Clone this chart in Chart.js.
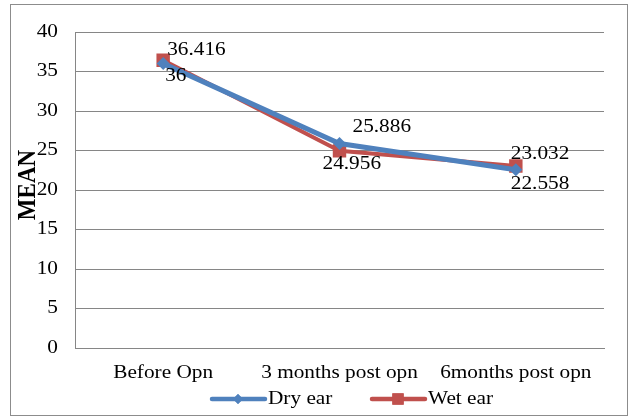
<!DOCTYPE html>
<html>
<head>
<meta charset="utf-8">
<script src="https://cdn.jsdelivr.net/npm/chart.js@4.4.0/dist/chart.umd.min.js"></script>
<style>
  html, body { margin: 0; padding: 0; background: #fff; }
  #wrap { width: 632px; height: 418px; }
</style>
</head>
<body>
<div id="wrap"><canvas id="Chart1" width="632" height="418"></canvas></div>
<script>
// chart data
var categories = ["Before Opn", "3 months post opn", "6months post opn"];
var seriesNames = ["Dry ear", "Wet ear"];
var dryEar = [36, 25.886, 22.558];
var wetEar = [36.416, 24.956, 23.032];
var yTicks = [0, 5, 10, 15, 20, 25, 30, 35, 40];

var blue = '#4F81BD', red = '#C0504D';
var serif = "'Liberation Serif', 'Times New Roman', serif";
var textFont = '19px ' + serif;
var stretch = 1.12; // the original picture is a little wider than tall

// where each value label sits relative to its point [dx, dy] (text left edge, text middle)
var labelOffsets = [
    [[2, 12], [13, -16], [-5, 14]],
    [[4, -10], [-17, 13], [-5, -12]]
];

function stext(ctx, s, x, y, align, font) {
    ctx.save();
    ctx.translate(x, y);
    ctx.scale(stretch, 1);
    ctx.font = font;
    ctx.textAlign = align;
    ctx.textBaseline = 'middle';
    ctx.fillText(s, 0, 0);
    ctx.restore();
}

var extras = {
    id: 'extras',
    afterDraw: function (chart) {
        var ctx = chart.ctx;
        var xs = chart.scales.x, ys = chart.scales.y;
        ctx.save();
        // outer border
        ctx.strokeStyle = '#8c8c8c';
        ctx.lineWidth = 1;
        ctx.strokeRect(10.5, 4.5, 617, 411);

        ctx.fillStyle = '#000';
        // tick labels
        categories.forEach(function (c, i) {
            stext(ctx, c, xs.getPixelForTick(i), 373, 'center', textFont);
        });
        ys.ticks.forEach(function (t) {
            stext(ctx, String(t.value), 58, ys.getPixelForValue(t.value), 'right', textFont);
        });

        // value labels
        chart.data.datasets.forEach(function (ds, d) {
            var meta = chart.getDatasetMeta(d);
            meta.data.forEach(function (pt, i) {
                var off = labelOffsets[d][i];
                stext(ctx, String(ds.data[i]), pt.x + off[0], pt.y + off[1], 'left', textFont);
            });
        });

        // y axis title
        ctx.save();
        ctx.translate(28, 185);
        ctx.scale(stretch, 1);
        ctx.rotate(-Math.PI / 2);
        ctx.font = 'bold 23px ' + serif;
        ctx.textAlign = 'center';
        ctx.textBaseline = 'middle';
        ctx.fillText('MEAN', 0, 0);
        ctx.restore();

        // legend
        var ly = 399;
        var items = [{x: 210, c: blue, s: 'rectRot', r: 5}, {x: 370, c: red, s: 'rect', r: 8}];
        items.forEach(function (it, k) {
            ctx.strokeStyle = it.c;
            ctx.lineWidth = 4.5;
            ctx.lineCap = 'round';
            ctx.beginPath();
            ctx.moveTo(it.x + 2, ly);
            ctx.lineTo(it.x + 55, ly);
            ctx.stroke();
            ctx.fillStyle = it.c;
            Chart.helpers.drawPoint(ctx, {pointStyle: it.s, radius: it.r, borderWidth: 0}, it.x + 28, ly);
            ctx.fill();
            ctx.fillStyle = '#000';
            stext(ctx, seriesNames[k], it.x + 58, ly, 'left', textFont);
        });
        ctx.restore();
    }
};

new Chart(document.getElementById('Chart1').getContext('2d'), {
    type: 'line',
    data: {
        labels: categories,
        datasets: [{
            label: seriesNames[0],
            data: dryEar,
            borderColor: blue,
            backgroundColor: blue,
            borderWidth: 5,
            pointStyle: 'rectRot',
            pointRadius: 6.5,
            pointBorderWidth: 0,
            tension: 0
        }, {
            label: seriesNames[1],
            data: wetEar,
            borderColor: red,
            backgroundColor: red,
            borderWidth: 4,
            pointStyle: 'rect',
            pointRadius: 9.5,
            pointBorderWidth: 0,
            tension: 0
        }]
    },
    options: {
        responsive: false,
        animation: false,
        layout: { padding: { left: 0, top: 32, right: 28, bottom: 0 } },
        plugins: {
            legend: { display: false },
            tooltip: { enabled: false }
        },
        scales: {
            x: {
                offset: true,
                grid: { display: false, drawTicks: false },
                border: { display: true, color: '#868686', width: 1 },
                ticks: { display: false },
                afterFit: function (s) { s.height = 70; }
            },
            y: {
                min: 0,
                max: 40,
                afterBuildTicks: function (s) { s.ticks = yTicks.map(function (v) { return {value: v}; }); },
                grid: { color: '#868686', lineWidth: 1, drawTicks: false },
                border: { display: true, color: '#868686', width: 1 },
                ticks: { display: false },
                afterFit: function (s) { s.width = 75; }
            }
        }
    },
    plugins: [extras]
});
</script>
</body>
</html>
